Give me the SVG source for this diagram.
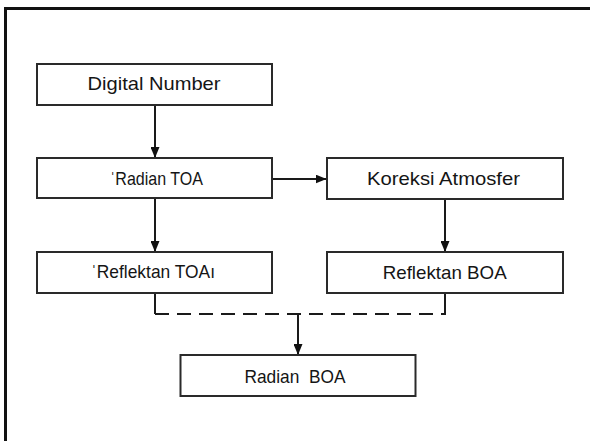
<svg xmlns="http://www.w3.org/2000/svg" width="590" height="441" viewBox="0 0 590 441">
<defs>
<marker id="ah" viewBox="0 0 11 9" refX="11" refY="4.5" markerWidth="11" markerHeight="9" markerUnits="userSpaceOnUse" orient="auto">
<path d="M0,0 L11,4.5 L0,9 Z" fill="#111"/>
</marker>
<style>
.box{fill:#fff;stroke:#2a2a2a;stroke-width:2}
.lbl{font-family:"Liberation Sans",Arial,sans-serif;font-size:18.5px;fill:#151515;text-anchor:middle}
.con{fill:none;stroke:#1a1a1a;stroke-width:2}
.dash{fill:none;stroke:#1a1a1a;stroke-width:2;stroke-dasharray:14 8}
</style>
</defs>
<rect x="5.5" y="8.5" width="620" height="470" fill="none" stroke="#111" stroke-width="3"/>
<g id="connectors">
<line class="con" x1="155" y1="105" x2="155" y2="158" marker-end="url(#ah)"/>
<line class="con" x1="272" y1="179" x2="326.5" y2="179" marker-end="url(#ah)"/>
<line class="con" x1="155" y1="198" x2="155" y2="252" marker-end="url(#ah)"/>
<line class="con" x1="445" y1="199" x2="445" y2="252" marker-end="url(#ah)"/>
<line class="con" x1="155" y1="293" x2="155" y2="314"/>
<line class="con" x1="445" y1="293" x2="445" y2="314"/>
<line class="dash" x1="154" y1="314" x2="446" y2="314" stroke-dashoffset="-1"/>
<line class="con" x1="298" y1="314" x2="298" y2="355" marker-end="url(#ah)"/>
</g>
<g id="digital-number">
<rect class="box" x="37" y="64" width="235" height="41"/>
<text class="lbl" x="154" y="90" textLength="133" lengthAdjust="spacingAndGlyphs">Digital Number</text>
</g>
<g id="radian-toa">
<rect class="box" x="37" y="158" width="235" height="40"/>
<text class="lbl" x="156.5" y="185" textLength="93" lengthAdjust="spacingAndGlyphs">ˈRadian TOA</text>
</g>
<g id="koreksi-atmosfer">
<rect class="box" x="327" y="158" width="236" height="41"/>
<text class="lbl" x="443.5" y="185" textLength="153" lengthAdjust="spacingAndGlyphs">Koreksi Atmosfer</text>
</g>
<g id="reflektan-toa">
<rect class="box" x="37" y="252" width="235" height="41"/>
<text class="lbl" x="153" y="278" textLength="124" lengthAdjust="spacingAndGlyphs">ˈReflektan TOAı</text>
</g>
<g id="reflektan-boa">
<rect class="box" x="327" y="252" width="236" height="41"/>
<text class="lbl" x="444.7" y="279" textLength="124" lengthAdjust="spacingAndGlyphs">Reflektan BOA</text>
</g>
<g id="radian-boa">
<rect class="box" x="180.5" y="355" width="235" height="41"/>
<text class="lbl" x="295" y="383" textLength="101" lengthAdjust="spacingAndGlyphs" xml:space="preserve">Radian  BOA</text>
</g>
</svg>
